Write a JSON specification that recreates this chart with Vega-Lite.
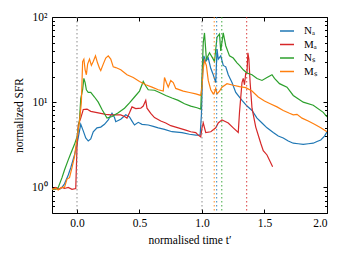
{
 "$schema": "https://vega.github.io/schema/vega-lite/v6.json",
 "width": 275, "height": 196,
 "autosize": {"type": "none"},
 "padding": {"left": 52, "top": 17, "right": 19, "bottom": 47},
 "background": "white",
 "config": {
  "font": "Liberation Serif",
  "view": {"stroke": "black", "strokeWidth": 1},
  "axis": {"labelFont": "Liberation Serif", "titleFont": "Liberation Serif", "labelFontSize": 11.5, "titleFontSize": 11.5, "titleFontWeight": "normal", "labelColor": "black", "titleColor": "black", "tickColor": "black", "domain": false, "grid": false, "tickSize": -4, "tickWidth": 1},
  "legend": {"labelFont": "Liberation Serif", "labelFontSize": 11, "labelColor": "black"}
 },
 "data": {"values": [
  {"s":"Nₐ","t":-0.2,"v":0.95},{"s":"Nₐ","t":-0.17,"v":0.97},{"s":"Nₐ","t":-0.14,"v":0.95},{"s":"Nₐ","t":-0.12,"v":1.0},{"s":"Nₐ","t":-0.1,"v":1.1},{"s":"Nₐ","t":-0.07,"v":1.4},{"s":"Nₐ","t":-0.05,"v":1.7},{"s":"Nₐ","t":-0.02,"v":2.4},{"s":"Nₐ","t":0,"v":3.2},{"s":"Nₐ","t":0.02,"v":4.6},{"s":"Nₐ","t":0.03,"v":5.5},{"s":"Nₐ","t":0.05,"v":4.6},{"s":"Nₐ","t":0.07,"v":3.8},{"s":"Nₐ","t":0.09,"v":3.5},{"s":"Nₐ","t":0.11,"v":3.7},{"s":"Nₐ","t":0.13,"v":4.5},{"s":"Nₐ","t":0.16,"v":5.0},{"s":"Nₐ","t":0.19,"v":5.1},{"s":"Nₐ","t":0.22,"v":5.5},{"s":"Nₐ","t":0.25,"v":6.2},{"s":"Nₐ","t":0.28,"v":7.4},{"s":"Nₐ","t":0.3,"v":6.6},{"s":"Nₐ","t":0.31,"v":5.9},{"s":"Nₐ","t":0.35,"v":6.3},{"s":"Nₐ","t":0.39,"v":7.1},{"s":"Nₐ","t":0.42,"v":6.7},{"s":"Nₐ","t":0.44,"v":6.0},{"s":"Nₐ","t":0.46,"v":5.4},{"s":"Nₐ","t":0.49,"v":5.8},{"s":"Nₐ","t":0.52,"v":5.5},{"s":"Nₐ","t":0.57,"v":5.4},{"s":"Nₐ","t":0.61,"v":5.2},{"s":"Nₐ","t":0.65,"v":5.0},{"s":"Nₐ","t":0.7,"v":4.8},{"s":"Nₐ","t":0.76,"v":4.5},{"s":"Nₐ","t":0.84,"v":4.4},{"s":"Nₐ","t":0.9,"v":4.2},{"s":"Nₐ","t":0.95,"v":4.1},{"s":"Nₐ","t":0.985,"v":4.1},{"s":"Nₐ","t":0.995,"v":7},{"s":"Nₐ","t":1.005,"v":22},{"s":"Nₐ","t":1.015,"v":35},{"s":"Nₐ","t":1.03,"v":30},{"s":"Nₐ","t":1.05,"v":33},{"s":"Nₐ","t":1.07,"v":25},{"s":"Nₐ","t":1.09,"v":21},{"s":"Nₐ","t":1.11,"v":17},{"s":"Nₐ","t":1.12,"v":42},{"s":"Nₐ","t":1.13,"v":32},{"s":"Nₐ","t":1.15,"v":35},{"s":"Nₐ","t":1.17,"v":27},{"s":"Nₐ","t":1.19,"v":26},{"s":"Nₐ","t":1.21,"v":21},{"s":"Nₐ","t":1.24,"v":17},{"s":"Nₐ","t":1.27,"v":13},{"s":"Nₐ","t":1.32,"v":10.5},{"s":"Nₐ","t":1.36,"v":9},{"s":"Nₐ","t":1.4,"v":8},{"s":"Nₐ","t":1.44,"v":6.5},{"s":"Nₐ","t":1.48,"v":5.7},{"s":"Nₐ","t":1.52,"v":5.0},{"s":"Nₐ","t":1.57,"v":4.4},{"s":"Nₐ","t":1.61,"v":4.0},{"s":"Nₐ","t":1.65,"v":3.8},{"s":"Nₐ","t":1.69,"v":3.5},{"s":"Nₐ","t":1.73,"v":3.3},{"s":"Nₐ","t":1.77,"v":3.25},{"s":"Nₐ","t":1.81,"v":3.2},{"s":"Nₐ","t":1.85,"v":3.25},{"s":"Nₐ","t":1.89,"v":3.3},{"s":"Nₐ","t":1.92,"v":3.45},{"s":"Nₐ","t":1.95,"v":3.6},{"s":"Nₐ","t":1.98,"v":4.0},{"s":"Nₐ","t":2.0,"v":4.5},
  {"s":"Mₐ","t":-0.2,"v":0.95},{"s":"Mₐ","t":-0.17,"v":1.0},{"s":"Mₐ","t":-0.15,"v":0.95},{"s":"Mₐ","t":-0.12,"v":1.0},{"s":"Mₐ","t":-0.1,"v":0.97},{"s":"Mₐ","t":-0.07,"v":1.0},{"s":"Mₐ","t":-0.04,"v":0.95},{"s":"Mₐ","t":-0.01,"v":0.97},{"s":"Mₐ","t":0.0,"v":3.0},{"s":"Mₐ","t":0.01,"v":5.4},{"s":"Mₐ","t":0.03,"v":6.5},{"s":"Mₐ","t":0.05,"v":8.2},{"s":"Mₐ","t":0.08,"v":8.3},{"s":"Mₐ","t":0.11,"v":7.8},{"s":"Mₐ","t":0.15,"v":7.6},{"s":"Mₐ","t":0.19,"v":7.4},{"s":"Mₐ","t":0.23,"v":7.2},{"s":"Mₐ","t":0.27,"v":7.1},{"s":"Mₐ","t":0.31,"v":7.1},{"s":"Mₐ","t":0.35,"v":7.1},{"s":"Mₐ","t":0.38,"v":6.8},{"s":"Mₐ","t":0.4,"v":6.5},{"s":"Mₐ","t":0.42,"v":7.5},{"s":"Mₐ","t":0.44,"v":8.8},{"s":"Mₐ","t":0.47,"v":8.4},{"s":"Mₐ","t":0.51,"v":8.5},{"s":"Mₐ","t":0.53,"v":9.0},{"s":"Mₐ","t":0.55,"v":10.5},{"s":"Mₐ","t":0.56,"v":8.5},{"s":"Mₐ","t":0.59,"v":7.4},{"s":"Mₐ","t":0.62,"v":6.6},{"s":"Mₐ","t":0.67,"v":6.0},{"s":"Mₐ","t":0.71,"v":5.7},{"s":"Mₐ","t":0.75,"v":5.3},{"s":"Mₐ","t":0.79,"v":5.1},{"s":"Mₐ","t":0.83,"v":4.9},{"s":"Mₐ","t":0.87,"v":4.7},{"s":"Mₐ","t":0.91,"v":4.5},{"s":"Mₐ","t":0.95,"v":4.4},{"s":"Mₐ","t":0.97,"v":4.1},{"s":"Mₐ","t":0.99,"v":3.9},{"s":"Mₐ","t":1.0,"v":5.0},{"s":"Mₐ","t":1.01,"v":5.7},{"s":"Mₐ","t":1.03,"v":4.4},{"s":"Mₐ","t":1.07,"v":4.5},{"s":"Mₐ","t":1.11,"v":5.0},{"s":"Mₐ","t":1.13,"v":5.7},{"s":"Mₐ","t":1.16,"v":6.2},{"s":"Mₐ","t":1.19,"v":5.9},{"s":"Mₐ","t":1.21,"v":5.7},{"s":"Mₐ","t":1.25,"v":5.0},{"s":"Mₐ","t":1.29,"v":4.4},{"s":"Mₐ","t":1.3,"v":7.6},{"s":"Mₐ","t":1.32,"v":17},{"s":"Mₐ","t":1.33,"v":19},{"s":"Mₐ","t":1.34,"v":16},{"s":"Mₐ","t":1.35,"v":22},{"s":"Mₐ","t":1.36,"v":22},{"s":"Mₐ","t":1.367,"v":38},{"s":"Mₐ","t":1.375,"v":32},{"s":"Mₐ","t":1.385,"v":17},{"s":"Mₐ","t":1.4,"v":8.5},{"s":"Mₐ","t":1.43,"v":5.1},{"s":"Mₐ","t":1.47,"v":3.3},{"s":"Mₐ","t":1.49,"v":2.7},{"s":"Mₐ","t":1.52,"v":2.4},{"s":"Mₐ","t":1.565,"v":1.75},
  {"s":"Nₛ","t":-0.2,"v":0.95},{"s":"Nₛ","t":-0.17,"v":0.95},{"s":"Nₛ","t":-0.15,"v":1.0},{"s":"Nₛ","t":-0.12,"v":1.3},{"s":"Nₛ","t":-0.1,"v":1.6},{"s":"Nₛ","t":-0.07,"v":2.1},{"s":"Nₛ","t":-0.05,"v":2.5},{"s":"Nₛ","t":-0.02,"v":3.2},{"s":"Nₛ","t":0,"v":3.9},{"s":"Nₛ","t":0.02,"v":6.2},{"s":"Nₛ","t":0.03,"v":11},{"s":"Nₛ","t":0.045,"v":14},{"s":"Nₛ","t":0.055,"v":19},{"s":"Nₛ","t":0.065,"v":17},{"s":"Nₛ","t":0.075,"v":14},{"s":"Nₛ","t":0.09,"v":13},{"s":"Nₛ","t":0.11,"v":13},{"s":"Nₛ","t":0.14,"v":11.5},{"s":"Nₛ","t":0.17,"v":10},{"s":"Nₛ","t":0.2,"v":8.2},{"s":"Nₛ","t":0.24,"v":6.5},{"s":"Nₛ","t":0.28,"v":6.8},{"s":"Nₛ","t":0.33,"v":7.5},{"s":"Nₛ","t":0.38,"v":8.5},{"s":"Nₛ","t":0.42,"v":9.8},{"s":"Nₛ","t":0.46,"v":11.5},{"s":"Nₛ","t":0.5,"v":13.5},{"s":"Nₛ","t":0.53,"v":17.5},{"s":"Nₛ","t":0.55,"v":15.5},{"s":"Nₛ","t":0.57,"v":14},{"s":"Nₛ","t":0.62,"v":13.8},{"s":"Nₛ","t":0.66,"v":13},{"s":"Nₛ","t":0.71,"v":12},{"s":"Nₛ","t":0.76,"v":11.2},{"s":"Nₛ","t":0.81,"v":10.5},{"s":"Nₛ","t":0.86,"v":9.6},{"s":"Nₛ","t":0.91,"v":9.0},{"s":"Nₛ","t":0.96,"v":8.6},{"s":"Nₛ","t":0.99,"v":8.3},{"s":"Nₛ","t":1.0,"v":20},{"s":"Nₛ","t":1.01,"v":50},{"s":"Nₛ","t":1.02,"v":65},{"s":"Nₛ","t":1.035,"v":32},{"s":"Nₛ","t":1.06,"v":38},{"s":"Nₛ","t":1.09,"v":32},{"s":"Nₛ","t":1.1,"v":30},{"s":"Nₛ","t":1.12,"v":58},{"s":"Nₛ","t":1.14,"v":63},{"s":"Nₛ","t":1.15,"v":40},{"s":"Nₛ","t":1.17,"v":65},{"s":"Nₛ","t":1.19,"v":46},{"s":"Nₛ","t":1.22,"v":35},{"s":"Nₛ","t":1.25,"v":33},{"s":"Nₛ","t":1.28,"v":29},{"s":"Nₛ","t":1.3,"v":27},{"s":"Nₛ","t":1.33,"v":24},{"s":"Nₛ","t":1.36,"v":22},{"s":"Nₛ","t":1.4,"v":21},{"s":"Nₛ","t":1.44,"v":19},{"s":"Nₛ","t":1.48,"v":18},{"s":"Nₛ","t":1.52,"v":19.5},{"s":"Nₛ","t":1.56,"v":21},{"s":"Nₛ","t":1.58,"v":19},{"s":"Nₛ","t":1.62,"v":16.5},{"s":"Nₛ","t":1.68,"v":15},{"s":"Nₛ","t":1.73,"v":12},{"s":"Nₛ","t":1.81,"v":10},{"s":"Nₛ","t":1.89,"v":9.2},{"s":"Nₛ","t":1.97,"v":7.6},{"s":"Nₛ","t":2.0,"v":6.7},
  {"s":"Mₛ","t":-0.2,"v":0.95},{"s":"Mₛ","t":-0.17,"v":0.97},{"s":"Mₛ","t":-0.15,"v":0.93},{"s":"Mₛ","t":-0.12,"v":1.0},{"s":"Mₛ","t":-0.1,"v":1.0},{"s":"Mₛ","t":-0.08,"v":1.25},{"s":"Mₛ","t":-0.06,"v":1.3},{"s":"Mₛ","t":-0.04,"v":1.7},{"s":"Mₛ","t":-0.02,"v":2.3},{"s":"Mₛ","t":0,"v":3.8},{"s":"Mₛ","t":0.02,"v":6},{"s":"Mₛ","t":0.035,"v":10},{"s":"Mₛ","t":0.045,"v":30},{"s":"Mₛ","t":0.055,"v":32},{"s":"Mₛ","t":0.065,"v":24},{"s":"Mₛ","t":0.075,"v":21},{"s":"Mₛ","t":0.085,"v":28},{"s":"Mₛ","t":0.1,"v":32},{"s":"Mₛ","t":0.115,"v":27},{"s":"Mₛ","t":0.13,"v":30},{"s":"Mₛ","t":0.148,"v":35},{"s":"Mₛ","t":0.164,"v":29},{"s":"Mₛ","t":0.18,"v":25},{"s":"Mₛ","t":0.19,"v":23.5},{"s":"Mₛ","t":0.21,"v":28},{"s":"Mₛ","t":0.23,"v":33},{"s":"Mₛ","t":0.25,"v":35},{"s":"Mₛ","t":0.27,"v":32},{"s":"Mₛ","t":0.29,"v":26},{"s":"Mₛ","t":0.31,"v":25.5},{"s":"Mₛ","t":0.35,"v":24},{"s":"Mₛ","t":0.4,"v":21},{"s":"Mₛ","t":0.45,"v":19.5},{"s":"Mₛ","t":0.5,"v":17.5},{"s":"Mₛ","t":0.55,"v":16},{"s":"Mₛ","t":0.6,"v":15},{"s":"Mₛ","t":0.65,"v":14},{"s":"Mₛ","t":0.69,"v":13.5},{"s":"Mₛ","t":0.7,"v":19.5},{"s":"Mₛ","t":0.715,"v":17},{"s":"Mₛ","t":0.73,"v":15},{"s":"Mₛ","t":0.75,"v":18},{"s":"Mₛ","t":0.77,"v":17},{"s":"Mₛ","t":0.79,"v":14.5},{"s":"Mₛ","t":0.85,"v":13.5},{"s":"Mₛ","t":0.9,"v":13},{"s":"Mₛ","t":0.95,"v":12.5},{"s":"Mₛ","t":0.99,"v":12},{"s":"Mₛ","t":1.0,"v":15},{"s":"Mₛ","t":1.01,"v":25},{"s":"Mₛ","t":1.02,"v":31},{"s":"Mₛ","t":1.035,"v":27},{"s":"Mₛ","t":1.05,"v":18},{"s":"Mₛ","t":1.07,"v":14},{"s":"Mₛ","t":1.09,"v":12.5},{"s":"Mₛ","t":1.1,"v":13},{"s":"Mₛ","t":1.11,"v":14.5},{"s":"Mₛ","t":1.12,"v":12.5},{"s":"Mₛ","t":1.14,"v":13.5},{"s":"Mₛ","t":1.16,"v":15},{"s":"Mₛ","t":1.2,"v":16.5},{"s":"Mₛ","t":1.25,"v":15.8},{"s":"Mₛ","t":1.3,"v":15.2},{"s":"Mₛ","t":1.35,"v":14.8},{"s":"Mₛ","t":1.4,"v":13.5},{"s":"Mₛ","t":1.45,"v":11.5},{"s":"Mₛ","t":1.5,"v":10.3},{"s":"Mₛ","t":1.55,"v":9.5},{"s":"Mₛ","t":1.6,"v":8.8},{"s":"Mₛ","t":1.65,"v":8},{"s":"Mₛ","t":1.7,"v":7.4},{"s":"Mₛ","t":1.73,"v":7.1},{"s":"Mₛ","t":1.76,"v":7.2},{"s":"Mₛ","t":1.8,"v":6.5},{"s":"Mₛ","t":1.85,"v":6},{"s":"Mₛ","t":1.9,"v":5.5},{"s":"Mₛ","t":1.95,"v":5},{"s":"Mₛ","t":2.0,"v":4.5}
 ]},
 "layer": [
  {
   "mark": {"type": "line", "strokeWidth": 1.2, "clip": true},
   "encoding": {
    "x": {"field": "t", "type": "quantitative", "scale": {"domain": [-0.2, 2.0], "nice": false, "zero": false},
          "axis": {"orient": "bottom", "values": [0, 0.5, 1, 1.5, 2], "format": ".1f", "title": "normalised time t′", "labelPadding": 8, "titlePadding": 6}},
    "y": {"field": "v", "type": "quantitative", "scale": {"type": "log", "domain": [0.5, 100], "nice": false},
          "axis": {"orient": "left", "values": [1, 10, 100], "labelExpr": "datum.value == 1 ? '10⁰' : datum.value == 10 ? '10¹' : '10²'", "title": "normalized SFR", "labelPadding": 9, "titlePadding": 7}},
    "color": {"field": "s", "type": "nominal",
              "scale": {"domain": ["Nₐ", "Mₐ", "Nₛ", "Mₛ"], "range": ["#1f77b4", "#d62728", "#2ca02c", "#ff7f0e"]},
              "legend": {"orient": "none", "legendX": 227, "legendY": 6, "title": null, "symbolType": "stroke", "symbolSize": 196, "symbolStrokeWidth": 1.5, "padding": 0, "rowPadding": 0.5, "labelOffset": 9}}
   }
  },
  {
   "data": {"values": [{"t": 0, "k": "ref"}, {"t": 1, "k": "ref"}, {"t": 1.098, "k": "Mₛ"}, {"t": 1.117, "k": "Nₐ"}, {"t": 1.158, "k": "Nₛ"}, {"t": 1.357, "k": "Mₐ"}]},
   "mark": {"type": "rule", "strokeDash": [1.5, 2.5], "strokeWidth": 1.2, "opacity": 0.75},
   "encoding": {
    "x": {"field": "t", "type": "quantitative", "axis": {"orient": "top", "values": [0, 0.5, 1, 1.5, 2], "labels": false, "title": null}},
    "color": {"field": "k", "type": "nominal", "scale": {"domain": ["ref", "Nₐ", "Mₐ", "Nₛ", "Mₛ"], "range": ["#7f7f7f", "#1f77b4", "#d62728", "#2ca02c", "#ff7f0e"]}, "legend": null}
   }
  },
  {
   "mark": {"type": "rule", "opacity": 0},
   "encoding": {
    "y": {"field": "v", "type": "quantitative", "axis": {"orient": "right", "values": [1, 10, 100], "labels": false, "title": null}}
   }
  },
  {
   "mark": {"type": "rule", "opacity": 0},
   "encoding": {
    "y": {"field": "v", "type": "quantitative", "axis": {"orient": "left", "values": [0.5, 0.6, 0.7, 0.8, 0.9, 2, 3, 4, 5, 6, 7, 8, 9, 20, 30, 40, 50, 60, 70, 80, 90], "labels": false, "title": null, "tickSize": -2.5}}
   }
  },
  {
   "mark": {"type": "rule", "opacity": 0},
   "encoding": {
    "y": {"field": "v", "type": "quantitative", "axis": {"orient": "right", "values": [0.5, 0.6, 0.7, 0.8, 0.9, 2, 3, 4, 5, 6, 7, 8, 9, 20, 30, 40, 50, 60, 70, 80, 90], "labels": false, "title": null, "tickSize": -2.5}}
   }
  }
 ],
 "resolve": {"axis": {"x": "independent", "y": "independent"}, "scale": {"color": "independent"}}
}
